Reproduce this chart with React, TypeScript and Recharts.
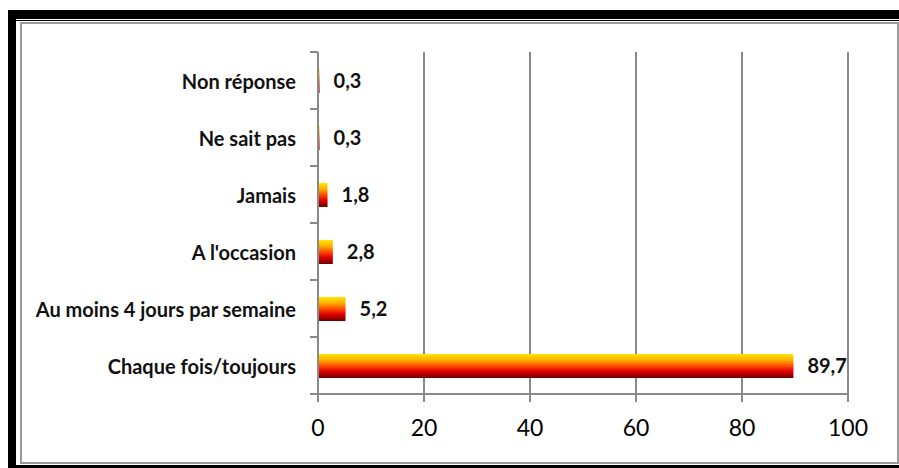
import { BarChart, Bar, XAxis, YAxis, CartesianGrid, LabelList } from "recharts";

const categories = [
  "Non réponse",
  "Ne sait pas",
  "Jamais",
  "A l'occasion",
  "Au moins 4 jours par semaine",
  "Chaque fois/toujours",
];
const values = [0.3, 0.3, 1.8, 2.8, 5.2, 89.7];
const xTicks = [0, 20, 40, 60, 80, 100];

const data = categories.map((name, i) => ({ name, value: values[i] }));

const FONT = "Lato, 'Open Sans', sans-serif";
const AXIS = "#898989";
const BAND = 57; // plot height / categories

const CategoryTick = (props: any) => {
  const { x, y, payload, index } = props;
  return (
    <g>
      <text
        x={x - 22}
        y={y}
        textAnchor="end"
        dominantBaseline="central"
        fontFamily={FONT}
        fontWeight={700}
        fontSize={20}
        fill="#111"
      >
        {payload.value}
      </text>
      {index === 0 && (
        <line x1={x - 8} x2={x} y1={y - BAND / 2} y2={y - BAND / 2} stroke={AXIS} strokeWidth={2} />
      )}
      <line x1={x - 8} x2={x} y1={y + BAND / 2} y2={y + BAND / 2} stroke={AXIS} strokeWidth={2} />
    </g>
  );
};

export default function App() {
  return (
    <div style={{ position: "absolute", left: 0, top: 0, width: 899, height: 468, background: "#fff" }}>
      {/* frame */}
      <div style={{ position: "absolute", left: 8, top: 10, width: 8, height: 458, background: "#000" }} />
      <div style={{ position: "absolute", left: 8, top: 10, width: 891, height: 9, background: "#000" }} />
      <div style={{ position: "absolute", left: 16, top: 20, width: 883, height: 1, background: "#000" }} />
      <div style={{ position: "absolute", left: 8, top: 465, width: 891, height: 3, background: "#000" }} />
      <div
        style={{
          position: "absolute",
          left: 20,
          top: 22,
          width: 875,
          height: 438,
          border: "2px solid #9a9a9a",
        }}
      />
      <div style={{ position: "absolute", left: 0, top: 0 }}>
        <BarChart
          width={899}
          height={468}
          data={data}
          layout="vertical"
          margin={{ top: 52, right: 51, bottom: 24, left: 18 }}
        >
          <defs>
            <linearGradient id="barGrad" x1="0" y1="0" x2="0" y2="1">
              <stop offset="0%" stopColor="#FFE600" />
              <stop offset="25%" stopColor="#FFB000" />
              <stop offset="50%" stopColor="#FF4A00" />
              <stop offset="72%" stopColor="#E00000" />
              <stop offset="100%" stopColor="#6E0000" />
            </linearGradient>
          </defs>
          <CartesianGrid horizontal={false} stroke={AXIS} strokeWidth={2} />
          <XAxis
            type="number"
            domain={[0, 100]}
            ticks={xTicks}
            interval={0}
            height={50}
            tickSize={8}
            tickMargin={18}
            stroke={AXIS}
            strokeWidth={2}
            tick={{ fill: "#000", fontSize: 23, fontFamily: FONT }}
          />
          <YAxis
            type="category"
            dataKey="name"
            width={300}
            stroke={AXIS}
            strokeWidth={2}
            tickLine={false}
            tickSize={0}
            tickMargin={0}
            tick={<CategoryTick />}
            interval={0}
          />
          <Bar dataKey="value" fill="url(#barGrad)" barSize={24} isAnimationActive={false}>
            <LabelList
              dataKey="value"
              position="right"
              offset={14}
              formatter={(v: any) => String(v).replace(".", ",")}
              style={{ fontFamily: FONT, fontWeight: 700, fontSize: 20, fill: "#111" }}
            />
          </Bar>
        </BarChart>
      </div>
    </div>
  );
}
